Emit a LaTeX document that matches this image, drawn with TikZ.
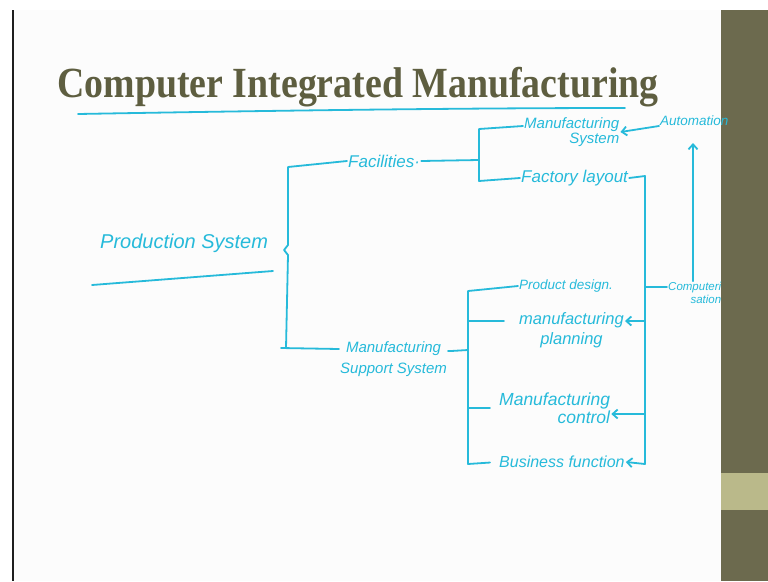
\documentclass[tikz,border=0pt]{standalone}
\usepackage{fontspec}
\setmainfont{Liberation Serif}
\newfontfamily\handfont{Liberation Sans}
\usetikzlibrary{calc,arrows.meta}
\definecolor{ink}{RGB}{38,186,218}
\definecolor{titlecol}{RGB}{94,94,64}
\definecolor{stripcol}{RGB}{108,106,78}
\definecolor{bandcol}{RGB}{186,185,138}
\definecolor{framecol}{RGB}{30,30,30}
\definecolor{paper}{RGB}{252,252,252}
\newcommand\hw[2]{\handfont\itshape\fontsize{#1}{#2}\selectfont}
\begin{document}
\begin{tikzpicture}[x=1pt,y=-1pt,
  lbl/.style={text=ink, inner sep=1pt, anchor=west},
  pen/.style={draw=ink, line width=1.8pt, line cap=round, line join=round},
  penarrow/.style={pen, -{Straight Barb[length=5pt,width=9pt]}}]
% page, frame and side strip
\useasboundingbox (0,0) rectangle (768,581);
\fill[white] (0,0) rectangle (768,581);
\fill[paper] (13,10) rectangle (721,581);
\draw[framecol, line width=2pt] (12.5,10) -- (12.5,581);
\fill[stripcol] (721,10) rectangle (768,581);
\fill[bandcol] (721,473) rectangle (768,510);

% title
\node[anchor=base, text=titlecol, inner sep=0pt] (title) at (358,97)
  {\scalebox{0.88}[1]{\bfseries\fontsize{43}{43}\selectfont Computer Integrated Manufacturing}};
\draw[pen] (78,114) .. controls (250,111) and (450,108) .. (625,108);

% labels
\node[lbl, font={\hw{20}{22}}] (prod) at (99,243) {Production System};
\draw[pen] (92,285) -- (273,271);
\node[lbl, font={\hw{17}{19}}] (fac) at (347,161) {Facilities·};
\node[lbl, font={\hw{15}{21}}, align=center] (mss) at (339,359) {Manufacturing\\Support System};
\node[lbl, font={\hw{15}{15}}, align=right] (msys) at (523,132) {Manufacturing\\System};
\node[lbl, font={\hw{13.5}{14}}] (auto) at (659,121) {Automation};
\node[lbl, font={\hw{17}{18}}] (flay) at (520,178) {Factory layout};
\node[lbl, font={\hw{11.5}{13}}, align=right] (comp) at (667,293) {Computeri\\sation};
\node[lbl, font={\hw{13.5}{14}}] (pd) at (518,286) {Product design.};
\node[lbl, font={\hw{16.5}{20}}, align=center] (mp) at (518,330) {manufacturing\\planning};
\node[lbl, font={\hw{17.5}{18}}, align=right] (mc) at (498,408) {Manufacturing\\control};
\node[lbl, font={\hw{16}{16}}] (bf) at (498,462) {Business function};

% bracket: production system
\coordinate (psT) at (288,167);
\coordinate (psU) at (288,245);
\coordinate (psN) at (284,250);
\coordinate (psL) at (288,255);
\coordinate (psB) at (286,348);
\coordinate (psF) at (281,348);
\draw[pen] (fac.west) -- (psT) -- (psU) -- (psN) -- (psL) -- (psB);
\draw[pen] (psF) -- ([yshift=10pt]mss.west);

% bracket: facilities
\coordinate (fbT) at (479,129);
\coordinate (fbM) at (479,160);
\coordinate (fbB) at (479,181);
\draw[pen] (fac.east) -- (fbM);
\draw[pen] ([yshift=6pt]msys.west) -- (fbT) -- (fbB) -- (flay.west);

% bracket: manufacturing support system
\coordinate (sbT) at (468,291);
\coordinate (sbM) at (468,350);
\coordinate (sbB) at (468,464);
\draw[pen] ([yshift=8pt]mss.east) -- ++(3,0) -- (sbM);
\draw[pen, shorten >=8pt] (pd.west) -- (sbT) -- (sbB) -- (bf.west);
\coordinate (mpL) at ([yshift=9pt]mp.west);
\draw[pen, shorten >=14pt] (sbT |- mpL) -- (mpL);
\draw[pen, shorten >=8pt] (sbT |- mc.west) -- (mc.west);

% computerisation spine
\coordinate (rsT) at (645,176);
\coordinate (rsB) at (645,464);
\draw[penarrow] (flay.east) -- (rsT) -- (rsB) -- (bf.east);
\coordinate (mpR) at ([yshift=9pt]mp.east);
\draw[penarrow] (rsT |- mpR) -- (mpR);
\coordinate (mcR) at ([yshift=-6pt]mc.east);
\draw[penarrow] (rsT |- mcR) -- (mcR);
\coordinate (compL) at ([yshift=6pt]comp.west);
\draw[pen] (rsT |- compL) -- (compL);

% automation links
\draw[penarrow] ([yshift=-5pt]auto.west) -- (msys.east);
\coordinate (upTip) at (693,143);
\draw[penarrow] (upTip |- comp.north) -- (upTip);
\end{tikzpicture}
\end{document}
